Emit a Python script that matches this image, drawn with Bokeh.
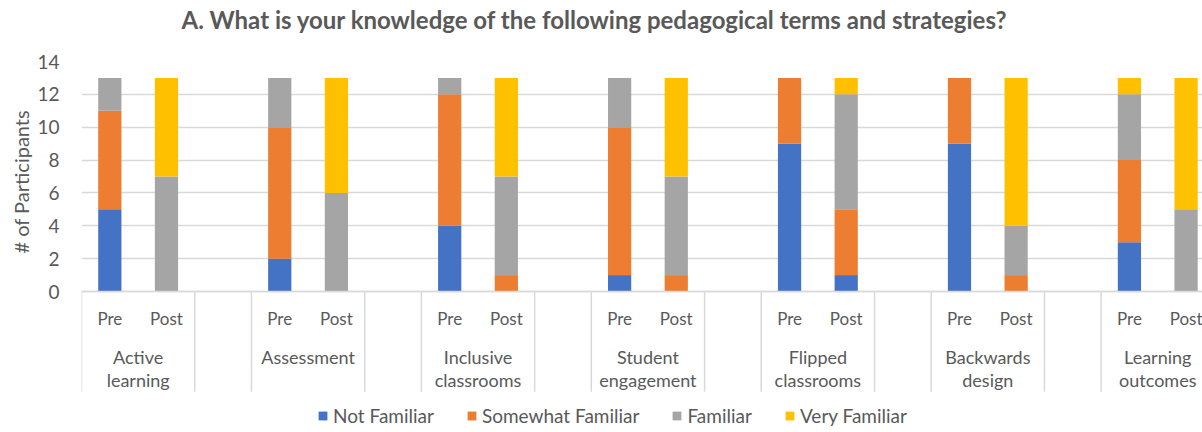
from bokeh.plotting import figure
from bokeh.models import ColumnDataSource, FixedTicker, Range1d, Title
from bokeh.core.properties import value
from bokeh.embed import file_html
from bokeh.resources import INLINE

# ---- data ----
groups = ["Active learning", "Assessment", "Inclusive classrooms", "Student engagement",
          "Flipped classrooms", "Backwards design", "Learning outcomes"]
group_labels = ["Active\nlearning", "Assessment", "Inclusive\nclassrooms", "Student\nengagement",
                "Flipped\nclassrooms", "Backwards\ndesign", "Learning\noutcomes"]
stages = ["Pre", "Post"]
levels = ["Not Familiar", "Somewhat Familiar", "Familiar", "Very Familiar"]

not_familiar_pre = [5, 2, 4, 1, 9, 9, 3]
not_familiar_post = [0, 0, 0, 0, 1, 0, 0]
somewhat_pre = [6, 8, 8, 9, 4, 4, 5]
somewhat_post = [0, 0, 1, 1, 4, 1, 0]
familiar_pre = [2, 3, 1, 3, 0, 0, 4]
familiar_post = [7, 6, 6, 6, 7, 3, 5]
very_pre = [0, 0, 0, 0, 0, 0, 1]
very_post = [6, 7, 6, 6, 1, 9, 8]

y_ticks = [0, 2, 4, 6, 8, 10, 12, 14]
colors = ["#4472C4", "#ED7D31", "#A5A5A5", "#FFC000"]
TXT = "#595959"
FONT = "Lato"

# slot layout: Pre, Post, blank per group
xs, stg, nf, sf, fa, vf = [], [], [], [], [], []
for g in range(len(groups)):
    for s, stage in enumerate(stages):
        xs.append(3 * g + s)
        stg.append(stage)
        if stage == "Pre":
            nf.append(not_familiar_pre[g]); sf.append(somewhat_pre[g])
            fa.append(familiar_pre[g]); vf.append(very_pre[g])
        else:
            nf.append(not_familiar_post[g]); sf.append(somewhat_post[g])
            fa.append(familiar_post[g]); vf.append(very_post[g])

src = ColumnDataSource(dict(x=xs, stage=stg, **{levels[0]: nf, levels[1]: sf, levels[2]: fa, levels[3]: vf}))

X_END = 19.29
p = figure(width=1202, height=432, x_range=Range1d(-0.5, X_END), y_range=Range1d(-8.58, 14),
           output_backend="svg", toolbar_location=None, x_axis_location=None,
           min_border_left=81, min_border_right=0, min_border_top=61, min_border_bottom=0)
p.outline_line_color = None
p.xgrid.visible = False
p.ygrid.grid_line_color = "#D9D9D9"
p.ygrid.grid_line_width = 1.5
p.yaxis.ticker = FixedTicker(ticks=y_ticks)
p.yaxis.axis_line_color = None
p.yaxis.major_tick_line_color = None
p.yaxis.minor_tick_line_color = None
p.yaxis.major_label_standoff = 16
p.yaxis.major_label_text_font = FONT
p.yaxis.major_label_text_font_size = "19px"
p.yaxis.major_label_text_color = TXT

p.title.text = "A. What is your knowledge of the following pedagogical terms and strategies?"
p.title.align = "left"
p.title.offset = 100
p.title.standoff = 0
p.title.vertical_align = "top"
p.title.text_font = FONT
p.title.text_font_size = "24px"
p.title.text_font_style = "bold"
p.title.text_color = TXT

# spacer between title and plot area
p.add_layout(Title(text=" ", text_font_size="18px", standoff=4), "above")

ylab = Title(text="# of Participants", align="left", offset=179, text_font=FONT,
             text_font_size="20px", text_font_style="normal", text_color=TXT, standoff=4)
p.add_layout(ylab, "left")

p.vbar_stack(levels, x="x", width=0.41, color=colors, source=src,
             legend_label=levels, line_width=0)

# category axis (drawn in data space below 0)
p.segment(x0=[-0.5], y0=[0], x1=[X_END], y1=[0], line_color="#D9D9D9", line_width=1.5)
bounds = []
for g in range(len(groups)):
    bounds += [3 * g - 0.5, 3 * g + 1.5]
p.segment(x0=bounds, y0=[0] * len(bounds), x1=bounds, y1=[-6.1] * len(bounds),
          line_color="#D9D9D9", line_width=1.5)
p.text(x="x", y=-1.64, text="stage", source=src, text_align="center", text_baseline="middle",
       text_font=value(FONT), text_font_size="17px", text_color=TXT)
p.text(x=[3 * g + 0.5 for g in range(len(groups))], y=[-3.32] * len(groups), text=group_labels,
       text_align="center", text_baseline="top", text_line_height=1.05,
       text_font=value(FONT), text_font_size="18px", text_color=TXT)

lg = p.legend[0]
lg.orientation = "horizontal"
lg.location = (236, 5)
lg.border_line_color = None
lg.background_fill_alpha = 0
lg.padding = 0
lg.margin = 0
lg.spacing = 32
lg.glyph_width = 11
lg.glyph_height = 11
lg.label_standoff = 5
lg.label_text_font = FONT
lg.label_text_font_size = "19px"
lg.label_text_color = TXT

open("out.html", "w").write(file_html(p, INLINE))
